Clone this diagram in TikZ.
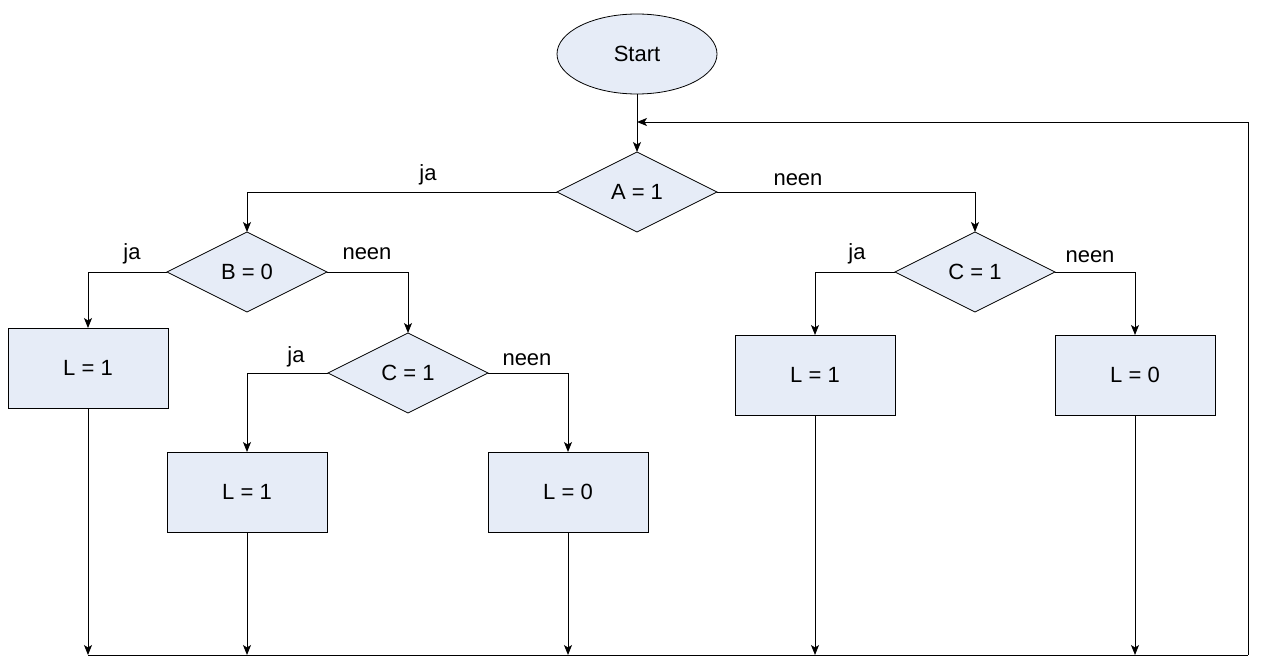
\documentclass[tikz,border=0pt]{standalone}
\usepackage{fontspec}
\setmainfont{Liberation Sans}
\usetikzlibrary{shapes.geometric,arrows.meta}
\definecolor{boxfill}{RGB}{230,236,247}
\tikzset{
  base/.style={draw=black, line width=0.8pt, fill=boxfill, inner sep=0pt, outer sep=0pt,
    font=\fontsize{22}{25}\selectfont},
  terminal/.style={base, ellipse, minimum width=160pt, minimum height=80pt},
  decision/.style={base, diamond, minimum width=160pt, minimum height=80pt},
  process/.style={base, rectangle, minimum width=160pt, minimum height=80pt},
  flow/.style={line width=0.95pt, -{Stealth[length=10pt,width=8pt,inset=2.5pt]}},
  plain/.style={line width=0.95pt},
  lbl/.style={font=\fontsize{22}{25}\selectfont, inner sep=0pt}
}
\begin{document}
\begin{tikzpicture}[x=1pt,y=-1pt]
\useasboundingbox (0,0) rectangle (1262,666);

% nodes
\node[terminal] (start) at (637,54) {Start};
\node[decision] (A) at (637,192) {A = 1};
\node[decision] (B) at (247,272) {B = 0};
\node[decision] (Cm) at (408,373) {C = 1};
\node[decision] (Cr) at (975,272) {C = 1};
\node[process] (L1) at (88,368) {L = 1};
\node[process] (L2) at (247,492) {L = 1};
\node[process] (L3) at (568,492) {L = 0};
\node[process] (L4) at (815,375) {L = 1};
\node[process] (L5) at (1135,375) {L = 0};

% return path corners
\coordinate (br) at (1248,655);
\coordinate (tr) at (1248,122);

% branches
\draw[flow] (start.south) -- (A.north);
\draw[flow] (A.west) -| (B.north);
\draw[flow] (A.east) -| (Cr.north);
\draw[flow] (B.west) -| (L1.north);
\draw[flow] (B.east) -| (Cm.north);
\draw[flow] (Cm.west) -| (L2.north);
\draw[flow] (Cm.east) -| (L3.north);
\draw[flow] (Cr.west) -| (L4.north);
\draw[flow] (Cr.east) -| (L5.north);

% collecting line
\foreach \n in {L1,L2,L3,L4,L5}
  \draw[flow] (\n.south) -- (\n.south |- br);
\draw[plain] (L1.south |- br) -- (br);
\draw[flow] (br) -- (tr) -- (start.south |- tr);

% labels
\node[lbl] (la) at (428,175) {ja};
\node[lbl] (lb) at (798,180) {neen};
\node[lbl] (lc) at (132,254) {ja};
\node[lbl] (ld) at (367,254) {neen};
\node[lbl] (le) at (296,357) {ja};
\node[lbl] (lf) at (527,360) {neen};
\node[lbl] (lg) at (857,254) {ja};
\node[lbl] (lh) at (1090,257) {neen};
\end{tikzpicture}
\end{document}
